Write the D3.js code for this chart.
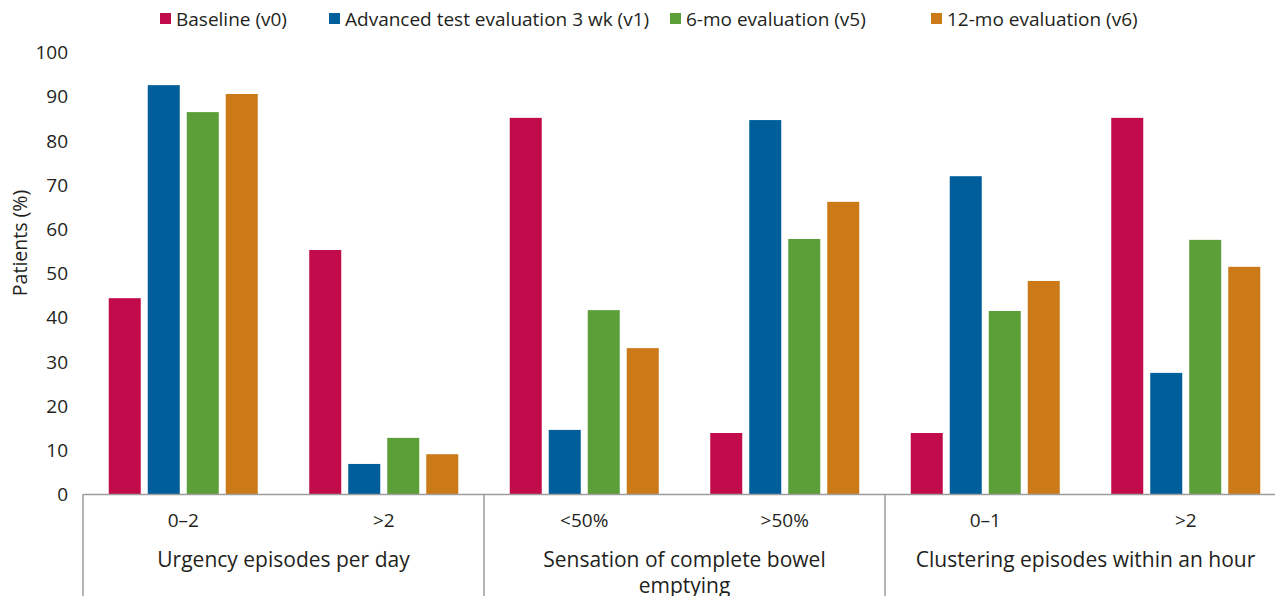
<!DOCTYPE html>
<html>
<head>
<meta charset="utf-8">
<script src="https://cdn.jsdelivr.net/npm/d3@7"></script>
<style>
  body { margin: 0; background: #fff; }
  text { font-family: "Open Sans", "Noto Sans", sans-serif; fill: #231f20; }
</style>
</head>
<body>
<div id="chart"></div>
<script>
// data
var seriesNames = ["Baseline (v0)", "Advanced test evaluation 3 wk (v1)", "6-mo evaluation (v5)", "12-mo evaluation (v6)"];
var seriesColors = ["#c20b4a", "#005e9b", "#5c9e38", "#cc7917"];
var subLabels = ["0–2", ">2", "<50%", ">50%", "0–1", ">2 "];
var groupLabels = [["Urgency episodes per day"], ["Sensation of complete bowel", "emptying"], ["Clustering episodes within an hour"]];
var baseline = [44.3, 55.2, 85.1, 13.8, 13.8, 85.1];
var week3 = [92.5, 6.8, 14.5, 84.6, 71.9, 27.4];
var month6 = [86.4, 12.7, 41.6, 57.7, 41.4, 57.5];
var month12 = [90.5, 9.0, 33.0, 66.1, 48.2, 51.4];
var yTicks = [0, 10, 20, 30, 40, 50, 60, 70, 80, 90, 100];

var values = [baseline, week3, month6, month12];

var width = 1275;
var height = 596;
var left = 83;
var bandW = 200.5;
var yZero = 494;
var yTop = 52;

var svg = d3.select("#chart").append("svg")
  .attr("width", width)
  .attr("height", height);

/* Scales */
var x0 = d3.scaleBand()
  .domain(subLabels)
  .range([left, left + bandW * subLabels.length])
  .padding(0);

var x1 = d3.scaleBand()
  .domain(seriesNames)
  .range([-74.5, 74.5])
  .paddingInner(7 / 39)
  .paddingOuter(0);

var y = d3.scaleLinear().domain([0, 100]).range([yZero, yTop]);

var grpX = d3.scaleBand()
  .domain(groupLabels.map((d, i) => i))
  .range([left, left + bandW * subLabels.length]);

/* Bars */
var groups = svg.append("g").attr("class", "bars")
  .selectAll("g")
  .data(subLabels)
  .enter()
  .append("g")
  .attr("transform", (d) => `translate(${x0(d) + x0.bandwidth() / 2}, 0)`);

groups.selectAll("rect")
  .data((d, j) => seriesNames.map((s, i) => ({ s: s, i: i, v: values[i][j] })))
  .enter()
  .append("rect")
  .attr("x", (d) => x1(d.s))
  .attr("width", x1.bandwidth())
  .attr("y", (d) => y(d.v))
  .attr("height", (d) => y(0) - y(d.v))
  .style("fill", (d) => seriesColors[d.i]);

/* Y axis (labels only) */
var yAxis = d3.axisLeft(y).tickValues(yTicks).tickSize(0).tickPadding(0);
var ya = svg.append("g")
  .attr("transform", "translate(68, 0)")
  .call(yAxis);
ya.select(".domain").remove();
ya.selectAll("text")
  .style("font-size", "19px")
  .attr("dy", "0.35em");

svg.append("text")
  .attr("transform", "translate(27, 243) rotate(-90)")
  .attr("text-anchor", "middle")
  .style("font-size", "19.5px")
  .text("Patients (%)");

/* X axis line and separators */
svg.append("line")
  .attr("x1", left).attr("x2", width)
  .attr("y1", yZero + 0.5).attr("y2", yZero + 0.5)
  .style("stroke", "#9d9d9d").style("stroke-width", 1.5);

svg.append("g").selectAll("line")
  .data(groupLabels.map((d, i) => i))
  .enter()
  .append("line")
  .attr("x1", (d) => grpX(d)).attr("x2", (d) => grpX(d))
  .attr("y1", yZero).attr("y2", height)
  .style("stroke", "#9d9d9d").style("stroke-width", 1.5);

/* Sub-category labels */
svg.append("g").selectAll("text")
  .data(subLabels)
  .enter()
  .append("text")
  .attr("x", (d) => x0(d) + x0.bandwidth() / 2)
  .attr("y", 527)
  .attr("text-anchor", "middle")
  .style("font-size", "19px")
  .text((d) => d.trim());

/* Group labels */
var gl = svg.append("g").selectAll("text")
  .data(groupLabels)
  .enter()
  .append("text")
  .attr("x", (d, i) => grpX(i) + grpX.bandwidth() / 2)
  .attr("y", 567)
  .attr("text-anchor", "middle")
  .style("font-size", "21px");

gl.selectAll("tspan")
  .data((d) => d)
  .enter()
  .append("tspan")
  .attr("x", function () { return d3.select(this.parentNode).attr("x"); })
  .attr("dy", (d, i) => (i === 0 ? 0 : 26))
  .text((d) => d);

/* Legend */
var legendX = [160, 329, 670, 931];
var legend = svg.append("g").selectAll("g")
  .data(seriesNames)
  .enter()
  .append("g")
  .attr("transform", (d, i) => `translate(${legendX[i]}, 13)`);

legend.append("rect")
  .attr("width", 11).attr("height", 11)
  .style("fill", (d, i) => seriesColors[i]);

legend.append("text")
  .attr("x", 16)
  .attr("y", 6)
  .attr("dy", "0.35em")
  .style("font-size", "19px")
  .text((d) => d);
</script>
</body>
</html>
